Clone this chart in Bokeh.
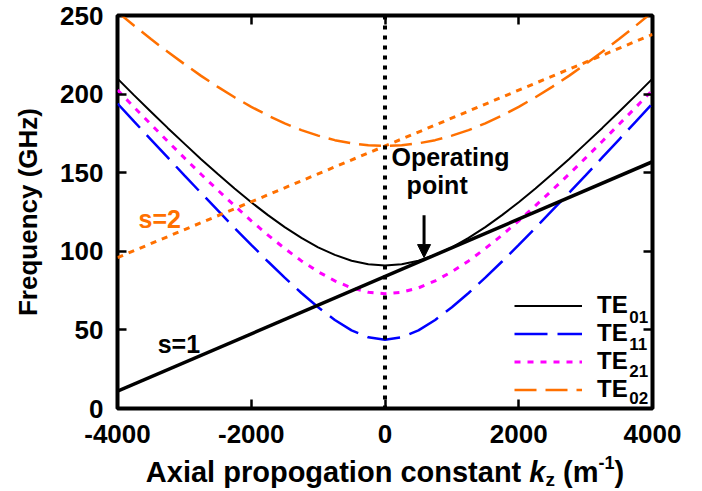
from bokeh.plotting import figure
from bokeh.layouts import column
from bokeh.models import (Range1d, LinearAxis, FixedTicker, Legend, LegendItem,
                          Label, Span, Arrow, NormalHead)
from bokeh.embed import file_html
from bokeh.resources import INLINE

# ---------------- data ----------------
kz = [-4000, -3750, -3500, -3250, -3000, -2750, -2500, -2250, -2000, -1750,
      -1500, -1250, -1000, -750, -500, -250, 0, 250, 500, 750, 1000, 1250,
      1500, 1750, 2000, 2250, 2500, 2750, 3000, 3250, 3500, 3750, 4000]

te01 = [209.8, 199.2, 188.8, 178.5, 168.5, 158.6, 149.1, 139.9, 131.2, 123.0,
        115.4, 108.5, 102.5, 97.7, 94.0, 91.8, 91.0, 91.8, 94.0, 97.7, 102.5,
        108.5, 115.4, 123.0, 131.2, 139.9, 149.1, 158.6, 168.5, 178.5, 188.8,
        199.2, 209.8]
te11 = [194.0, 182.5, 171.1, 159.7, 148.3, 137.1, 126.0, 114.9, 104.1, 93.5,
        83.3, 73.5, 64.4, 56.3, 49.7, 45.3, 43.7, 45.3, 49.7, 56.3, 64.4,
        73.5, 83.3, 93.5, 104.1, 114.9, 126.0, 137.1, 148.3, 159.7, 171.1,
        182.5, 194.0]
te21 = [202.6, 191.6, 180.8, 170.0, 159.4, 149.0, 138.9, 129.0, 119.4, 110.3,
        101.8, 93.9, 87.0, 81.2, 76.7, 74.0, 73.0, 74.0, 76.7, 81.2, 87.0,
        93.9, 101.8, 110.3, 119.4, 129.0, 138.9, 149.0, 159.4, 170.0, 180.8,
        191.6, 202.6]
te02 = [252.2, 243.5, 235.0, 226.9, 219.1, 211.6, 204.6, 198.0, 191.9, 186.4,
        181.4, 177.1, 173.6, 170.7, 168.7, 167.4, 167.0, 167.4, 168.7, 170.7,
        173.6, 177.1, 181.4, 186.4, 191.9, 198.0, 204.6, 211.6, 219.1, 226.9,
        235.0, 243.5, 252.2]

beam_kz = [-4000, 4000]
beam_s1 = [11.0, 157.0]
beam_s2 = [96.0, 238.0]

mode_names = ["TE", "TE", "TE", "TE"]
mode_subs = ["01", "11", "21", "02"]
x_ticks = [-4000, -2000, 0, 2000, 4000]
x_tick_labels = ["-4000", "-2000", "0", "2000", "4000"]
y_ticks = [0, 50, 100, 150, 200, 250]

# ---------------- styling ----------------
FONT = "Liberation Sans"
ORANGE = "#ff7000"
W = 702
TOP, FRAME_H, BOT = 15, 393, 46
LEFT, RIGHT = 117, 50
FRAME_W = W - LEFT - RIGHT

p = figure(width=W, height=TOP + FRAME_H + BOT,
           x_range=Range1d(-4000, 4000), y_range=Range1d(0, 250),
           output_backend="svg", toolbar_location=None,
           min_border_left=LEFT, min_border_right=RIGHT,
           min_border_top=TOP, min_border_bottom=BOT, margin=0)
p.grid.visible = False
p.background_fill_color = "white"
p.border_fill_color = "white"
p.outline_line_color = "black"
p.outline_line_width = 4

p.add_layout(LinearAxis(), "above")
p.add_layout(LinearAxis(), "right")

bottom, left, top, right = p.below[0], p.left[0], p.above[0], p.right[0]
for ax in (bottom, top):
    ax.ticker = FixedTicker(ticks=x_ticks)
for ax in (left, right):
    ax.ticker = FixedTicker(ticks=y_ticks)

for ax in (bottom, left, top, right):
    ax.axis_line_color = None
    ax.major_tick_in = 9
    ax.major_tick_out = 0
    ax.minor_tick_in = 0
    ax.minor_tick_out = 0
    ax.major_tick_line_width = 2.5
    ax.major_tick_line_color = "black"
    ax.major_label_text_font = FONT
    ax.major_label_text_font_style = "bold"
    ax.major_label_text_font_size = "26px"
    ax.major_label_text_color = "black"

bottom.major_label_overrides = {t: s for t, s in zip(x_ticks, x_tick_labels)}
bottom.major_label_standoff = 16
left.major_label_standoff = 14
top.major_label_overrides = {t: "" for t in x_ticks}
right.major_label_overrides = {t: "" for t in y_ticks}
top.major_label_standoff = 0
right.major_label_standoff = 0

left.axis_label = "Frequency (GHz)"
left.axis_label_text_font = FONT
left.axis_label_text_font_style = "bold"
left.axis_label_text_font_size = "26px"
left.axis_label_text_color = "black"
left.axis_label_standoff = 14

# ---------------- curves ----------------
r01 = p.line(kz, te01, line_color="black", line_width=2)
r11 = p.line(kz, te11, line_color="#0000ff", line_width=2.5, line_dash="33 10")
r21 = p.line(kz, te21, line_color="#ff00ff", line_width=3, line_dash="6 7")
r02 = p.line(kz, te02, line_color=ORANGE, line_width=2.5, line_dash="22 9")

p.line(beam_kz, beam_s1, line_color="black", line_width=3.5)
p.line(beam_kz, beam_s2, line_color=ORANGE, line_width=3, line_dash="6 6")

p.add_layout(Span(location=0, dimension="height", line_color="black",
                  line_width=4, line_dash="4 6"))

# ---------------- annotations ----------------
def txt(fig, x, y, s, color="black", size="24px", align="left", style="bold",
        units="data"):
    fig.add_layout(Label(x=x, y=y, x_units=units, y_units=units, text=s,
                         text_color=color, text_font=FONT,
                         text_font_style=style, text_font_size=size,
                         text_align=align, text_baseline="middle"))

txt(p, 980, 160.0, "Operating", align="center", size="25px")
txt(p, 780, 142.0, "point", align="center", size="25px")
txt(p, -3685, 120.5, "s=2", color=ORANGE, size="25px")
txt(p, -3400, 41.0, "s=1", size="25px")

p.add_layout(Arrow(end=NormalHead(size=13, fill_color="black", line_color="black"),
                   x_start=584, y_start=123, x_end=584, y_end=96,
                   line_width=3, line_color="black"))

# ---------------- legend ----------------
LX, LY, ROW = 397, 5, 27
legend = Legend(items=[LegendItem(label=mode_names[0], renderers=[r01]),
                       LegendItem(label=mode_names[1], renderers=[r11]),
                       LegendItem(label=mode_names[2], renderers=[r21]),
                       LegendItem(label=mode_names[3], renderers=[r02])],
                location=(LX, LY), orientation="vertical",
                glyph_width=68, glyph_height=ROW, label_height=ROW,
                label_standoff=15, spacing=0, padding=0, margin=0,
                border_line_color=None, background_fill_alpha=0,
                label_text_font=FONT, label_text_font_style="bold",
                label_text_font_size="24px", label_text_color="black")
p.add_layout(legend)
# subscripts of the legend labels (screen units from the frame's bottom-left)
for i, sub in enumerate(mode_subs):
    cy = LY + (len(mode_subs) - i - 0.5) * ROW
    txt(p, LX + 68 + 15 + 1.278 * 24 + 1, cy - 8, sub, size="17px",
        units="screen")

# ---------------- x-axis label strip (italic k, subscript z, superscript -1) ----
# The strip's frame is aligned with the main frame by the column layout,
# so its x coordinates are pixels measured from the main frame's left edge.
H2 = 491 - (TOP + FRAME_H + BOT)
q = figure(width=W, height=H2, x_range=Range1d(0, FRAME_W), y_range=Range1d(0, H2),
           output_backend="svg", toolbar_location=None,
           min_border_left=LEFT, min_border_right=RIGHT,
           min_border_top=0, min_border_bottom=0, margin=0,
           x_axis_type=None, y_axis_type=None)
q.grid.visible = False
q.outline_line_color = None
q.background_fill_color = "white"
q.border_fill_color = "white"

F, FS, FP = 29, 19, 18
SP = 0.278 * F
widths = [13.224 * F, 0.556 * F, 0.5 * FS + SP, 1.222 * F, 0.889 * FP, 0.333 * F]
x0 = FRAME_W / 2 - sum(widths) / 2
xs = [x0]
for w in widths[:-1]:
    xs.append(xs[-1] + w)
MID = 20
txt(q, xs[0], MID, "Axial propogation constant", size=f"{F}px")
txt(q, xs[1], MID, "k", size=f"{F}px", style="bold italic")
txt(q, xs[2], MID - 8, "z", size=f"{FS}px")
txt(q, xs[3], MID, "(m", size=f"{F}px")
txt(q, xs[4], MID + 9, "-1", size=f"{FP}px")
txt(q, xs[5], MID, ")", size=f"{F}px")

layout = column(p, q, spacing=0, margin=0)
open("out.html", "w").write(file_html(layout, INLINE))
